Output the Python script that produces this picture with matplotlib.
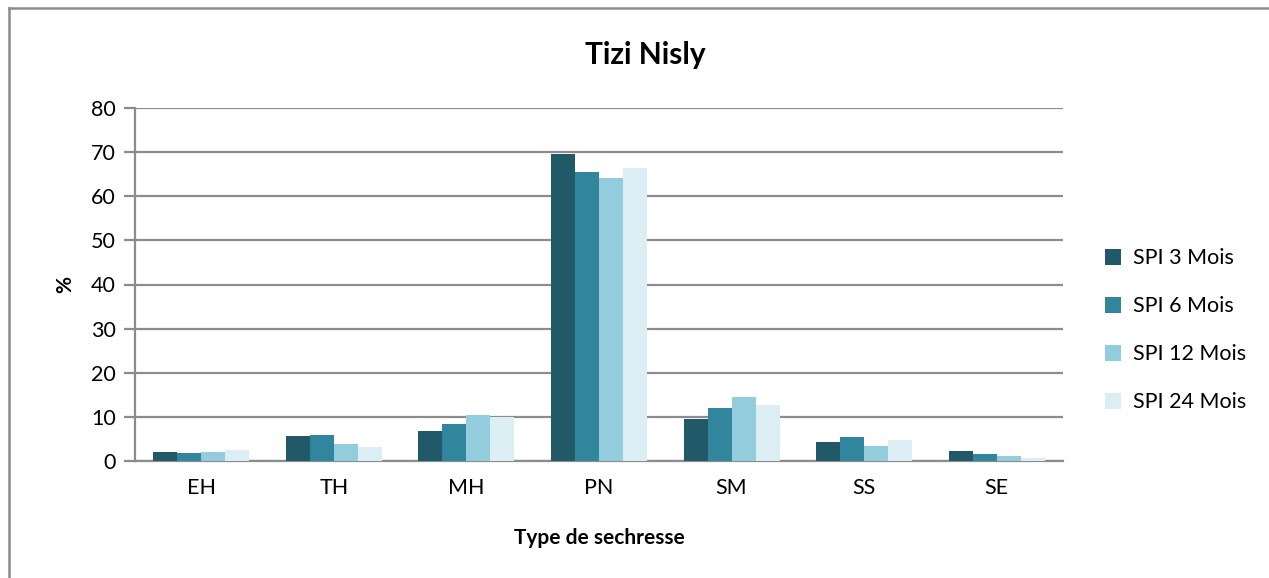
import matplotlib
matplotlib.use("Agg")
import matplotlib.pyplot as plt
from matplotlib.lines import Line2D
import numpy as np

categories = ["EH", "TH", "MH", "PN", "SM", "SS", "SE"]
series_names = ["SPI 3 Mois", "SPI 6 Mois", "SPI 12 Mois", "SPI 24 Mois"]
spi_3 = [2.0, 5.6, 6.7, 69.5, 9.6, 4.2, 2.3]
spi_6 = [1.8, 5.8, 8.4, 65.4, 11.9, 5.4, 1.5]
spi_12 = [2.0, 3.9, 10.5, 64.2, 14.6, 3.5, 1.2]
spi_24 = [2.4, 3.2, 10.0, 66.4, 12.6, 4.7, 0.6]
colors = ["#215968", "#31859C", "#93CDDD", "#DAEEF3"]
yticks = [0, 10, 20, 30, 40, 50, 60, 70, 80]

plt.rcParams["font.family"] = ["Lato", "DejaVu Sans"]

W, H = 1269, 578
fig = plt.figure(figsize=(W / 100, H / 100), dpi=100)

# outer chart frame (top and left edges)
frame_kw = dict(transform=fig.transFigure, color="#8c8c8c", linewidth=1.8)
fig.lines.append(Line2D([9 / W, 1.0], [1 - 8 / H, 1 - 8 / H], **frame_kw))
fig.lines.append(Line2D([9 / W, 9 / W], [0.0, 1 - 8 / H], **frame_kw))

left, right, top, bottom = 135, 1063, 108, 461
ax = fig.add_axes([left / W, 1 - bottom / H, (right - left) / W, (bottom - top) / H])

x = np.arange(len(categories))
bw = 0.181
for i, (vals, name) in enumerate(zip([spi_3, spi_6, spi_12, spi_24], series_names)):
    ax.bar(x + (i - 1.5) * bw, vals, width=bw, color=colors[i], label=name, zorder=3)

ax.set_xlim(-0.5, len(categories) - 0.5)
ax.set_ylim(0, 80)
ax.set_yticks(yticks)
ax.set_xticks(x)
ax.set_xticklabels(categories)
ax.yaxis.grid(True, color="#8c8c8c", linewidth=1.6, zorder=0)
ax.set_axisbelow(True)
for s in ["top", "right"]:
    ax.spines[s].set_visible(False)
ax.spines["left"].set_color("#8c8c8c")
ax.spines["left"].set_linewidth(1.6)
ax.spines["bottom"].set_color("#8c8c8c")
ax.spines["bottom"].set_linewidth(1.6)
ax.tick_params(axis="y", length=8, width=1.6, color="#8c8c8c", labelsize=15.5, pad=6)
ax.tick_params(axis="x", length=0, labelsize=15.5, pad=12)

ax.set_xlabel("Type de sechresse", fontsize=15, fontweight="bold", labelpad=22)
ax.set_ylabel("%", fontsize=15, fontweight="bold", labelpad=11)
fig.text(645 / W, 1 - 55 / H, "Tizi Nisly", ha="center", va="center",
         fontsize=21.5, fontweight="bold")

leg = ax.legend(loc="center left", bbox_to_anchor=(1.024, 0.37), frameon=False,
                fontsize=15.5, handlelength=0.75, handleheight=0.75,
                handletextpad=0.55, labelspacing=1.3)

fig.savefig("out.png", dpi=100)
